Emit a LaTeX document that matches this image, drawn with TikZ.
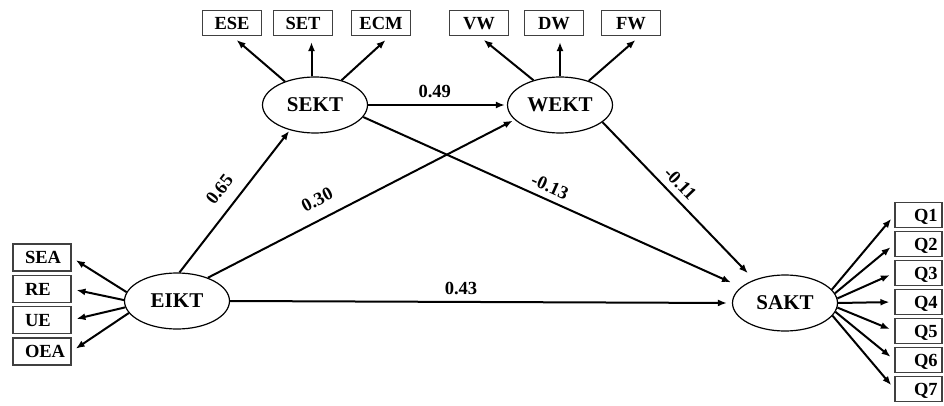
\documentclass[tikz,border=0pt]{standalone}
\usepackage{fontspec}
\setmainfont{Liberation Serif}
\usetikzlibrary{arrows.meta,shapes.geometric}
\begin{document}
\begin{tikzpicture}[x=1pt,y=-1pt,
  lat/.style={ellipse,draw,line width=1.2pt,minimum width=105pt,minimum height=56pt,inner sep=0pt,
    font=\fontsize{21}{23}\selectfont\bfseries,text height=13.9pt,text depth=0pt},
  boxbase/.style={rectangle,draw=black!75,line width=1.1pt,font=\fontsize{18.5}{20}\selectfont\bfseries,
    text height=12.2pt,text depth=0pt},
  lbox/.style={boxbase,minimum height=27pt,inner xsep=6pt,text width=46pt,align=left},
  tbox/.style={boxbase,minimum height=25pt,minimum width=59pt,inner sep=0pt},
  rbox/.style={boxbase,minimum height=25pt,inner xsep=3pt,text width=41pt,align=left},
  arr/.style={-{Latex[length=9pt,width=7pt]},line width=2pt},
  lbl/.style={font=\fontsize{18.5}{20}\selectfont\bfseries,inner sep=2pt,sloped,above=4pt},
  lblfar/.style={lbl,above=6pt}
]
\useasboundingbox (0,0) rectangle (944,406);

% latent variables
\node[lat] (EIKT) at (177,301) {EIKT};
\node[lat] (SEKT) at (315,105) {SEKT};
\node[lat] (WEKT) at (560,105) {WEKT};
\node[lat] (SAKT) at (785,303) {SAKT};

% left indicators
\node[lbox] (SEA) at (42,257.5) {\hspace*{6pt}SEA};
\node[lbox] (RE)  at (42,289) {\hspace*{6pt}RE};
\node[lbox] (UE)  at (42,320) {\hspace*{6pt}UE};
\node[lbox] (OEA) at (42,351.5) {\hspace*{6pt}OEA};

% top indicators
\node[tbox] (ESE) at (232,23) {ESE};
\node[tbox] (SET) at (303,23) {SET};
\node[tbox] (ECM) at (381,23) {ECM};
\node[tbox] (VW)  at (479,23) {VW};
\node[tbox] (DW)  at (554,23) {DW};
\node[tbox] (FW)  at (631,23) {FW};

% right indicators
\node[rbox] (Q1) at (918.5,215) {\hspace*{16pt}Q1};
\node[rbox] (Q2) at (918.5,244) {\hspace*{16pt}Q2};
\node[rbox] (Q3) at (918.5,273) {\hspace*{16pt}Q3};
\node[rbox] (Q4) at (918.5,302) {\hspace*{16pt}Q4};
\node[rbox] (Q5) at (918.5,331) {\hspace*{16pt}Q5};
\node[rbox] (Q6) at (918.5,360) {\hspace*{16pt}Q6};
\node[rbox] (Q7) at (918.5,389) {\hspace*{16pt}Q7};

% EIKT indicators
\draw[arr,shorten >=5pt] (EIKT.170) -- (SEA.east);
\draw[arr,shorten >=5pt] (EIKT.179) -- (RE.east);
\draw[arr,shorten >=5pt] (EIKT.187) -- (UE.east);
\draw[arr,shorten >=5pt] (EIKT.194) -- (OEA.east);

% SEKT indicators
\draw[arr,shorten >=6pt] (SEKT.142) -- (ESE.south);
\draw[arr,shorten >=6pt] (SEKT.97) -- (SEKT.97 |- SET.south);
\draw[arr,shorten >=6pt] (SEKT.43) -- ([xshift=9pt]ECM.south);

% WEKT indicators
\draw[arr,shorten >=6pt] (WEKT.137) -- (VW.south);
\draw[arr,shorten >=6pt] (WEKT.90) -- (WEKT.90 |- DW.south);
\draw[arr,shorten >=6pt] (WEKT.40) -- ([xshift=9pt]FW.south);

% SAKT indicators
\draw[arr,shorten >=5pt] (SAKT.16) -- (Q1.west);
\draw[arr,shorten >=5pt] (SAKT.11) -- (Q2.west);
\draw[arr,shorten >=5pt] (SAKT.5) -- (Q3.west);
\draw[arr,shorten >=5pt] (SAKT.0) -- (Q4.west);
\draw[arr,shorten >=5pt] (SAKT.-5) -- (Q5.west);
\draw[arr,shorten >=5pt] (SAKT.-10) -- (Q6.west);
\draw[arr,shorten >=5pt] (SAKT.-15) -- (Q7.west);

% structural paths
\draw[arr,shorten >=1pt] (EIKT.85) -- node[lblfar,pos=0.5] {0.65} (SEKT.225);
\draw[arr,shorten >=2pt] (EIKT.37) -- node[lblfar,pos=0.385] {0.30} (WEKT.198);
\draw[arr,shorten >=2pt] (SEKT.east) -- node[lbl,pos=0.48] {0.49} (WEKT.west);
\draw[arr,shorten >=11pt] (SEKT.346) -- node[lbl,pos=0.48] {-0.13} (SAKT.160);
\draw[arr,shorten >=9pt] (WEKT.338) -- node[lbl,pos=0.45] {-0.11} (SAKT.143);
\draw[arr,shorten >=5pt] (EIKT.east) -- node[lbl,pos=0.46] {0.43} (SAKT.west);
\end{tikzpicture}
\end{document}
